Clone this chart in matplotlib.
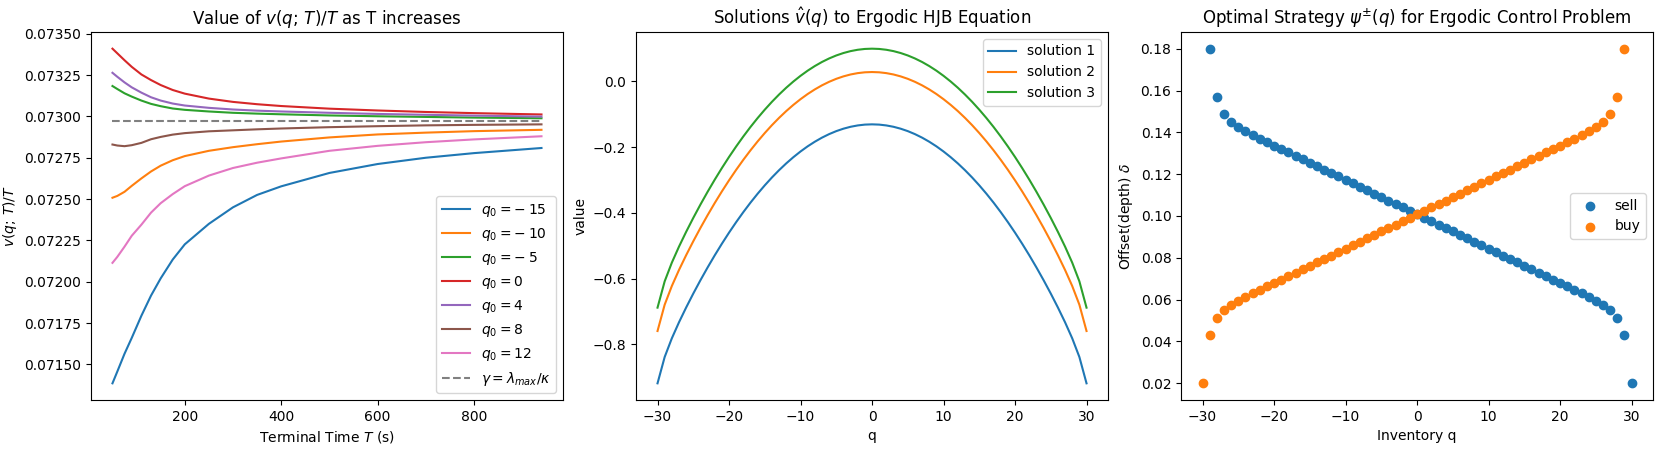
import numpy as np
import matplotlib
matplotlib.use("Agg")
import matplotlib.pyplot as plt

# --- left panel: v(q;T)/T against terminal time ---
T_grid = [50, 60, 75, 90, 110, 130, 150, 175, 200, 250, 300, 350, 400, 500, 600, 700, 800, 940]
q0_labels = [r"$q_0 = -\:15$", r"$q_0 = -\:10$", r"$q_0 = -\:5$", "$q_0 = 0$",
             "$q_0 = 4$", "$q_0 = 8$", "$q_0 = 12$"]
vT_m15 = [0.071385, 0.071456, 0.071564, 0.071660, 0.071794, 0.071916, 0.072020, 0.072134, 0.072226,
          0.072350, 0.072450, 0.072525, 0.072577, 0.072658, 0.072712, 0.072750, 0.072778, 0.072809]
vT_m10 = [0.072508, 0.072519, 0.072544, 0.072580, 0.072625, 0.072667, 0.072702, 0.072735, 0.072760,
          0.072792, 0.072814, 0.072832, 0.072848, 0.072873, 0.072891, 0.072902, 0.072911, 0.072919]
vT_m5 = [0.073184, 0.073166, 0.073140, 0.073120, 0.073096, 0.073076, 0.073062, 0.073048, 0.073040,
         0.073030, 0.073022, 0.073017, 0.073013, 0.073006, 0.073001, 0.072997, 0.072993, 0.072989]
vT_0 = [0.073410, 0.073382, 0.073340, 0.073300, 0.073254, 0.073220, 0.073190, 0.073160, 0.073138,
        0.073108, 0.073088, 0.073074, 0.073063, 0.073047, 0.073036, 0.073027, 0.073020, 0.073012]
vT_4 = [0.073264, 0.073240, 0.073206, 0.073176, 0.073144, 0.073116, 0.073096, 0.073078, 0.073066,
        0.073052, 0.073042, 0.073035, 0.073030, 0.073022, 0.073015, 0.073010, 0.073005, 0.072999]
vT_8 = [0.072830, 0.072824, 0.072820, 0.072826, 0.072840, 0.072862, 0.072876, 0.072890, 0.072899,
        0.072910, 0.072916, 0.072922, 0.072927, 0.072935, 0.072941, 0.072946, 0.072949, 0.072952]
vT_12 = [0.072114, 0.072150, 0.072212, 0.072278, 0.072345, 0.072418, 0.072475, 0.072530, 0.072578,
         0.072642, 0.072688, 0.072720, 0.072746, 0.072792, 0.072822, 0.072844, 0.072861, 0.072880]
gamma = 0.07297

# --- middle panel: ergodic HJB solutions ---
q_grid = list(range(-30, 31))
sol_1 = [-0.9182, -0.8382, -0.7815, -0.7328, -0.6879, -0.6454, -0.6049, -0.5662, -0.5292, -0.4939,
         -0.4602, -0.4282, -0.3978, -0.3690, -0.3419, -0.3164, -0.2925, -0.2703, -0.2497, -0.2308,
         -0.2135, -0.1978, -0.1838, -0.1714, -0.1607, -0.1516, -0.1442, -0.1384, -0.1343, -0.1318,
         -0.1310,
         -0.1318, -0.1343, -0.1384, -0.1442, -0.1516, -0.1607, -0.1714, -0.1838, -0.1978, -0.2135,
         -0.2308, -0.2497, -0.2703, -0.2925, -0.3164, -0.3419, -0.3690, -0.3978, -0.4282, -0.4602,
         -0.4939, -0.5292, -0.5662, -0.6049, -0.6454, -0.6879, -0.7328, -0.7815, -0.8382, -0.9182]
sol_2 = [-0.7592, -0.6792, -0.6225, -0.5738, -0.5289, -0.4864, -0.4459, -0.4072, -0.3702, -0.3349,
         -0.3012, -0.2692, -0.2388, -0.2100, -0.1829, -0.1574, -0.1335, -0.1113, -0.0907, -0.0718,
         -0.0545, -0.0388, -0.0248, -0.0124, -0.0017, 0.0074, 0.0148, 0.0206, 0.0247, 0.0272,
         0.0280,
         0.0272, 0.0247, 0.0206, 0.0148, 0.0074, -0.0017, -0.0124, -0.0248, -0.0388, -0.0545,
         -0.0718, -0.0907, -0.1113, -0.1335, -0.1574, -0.1829, -0.2100, -0.2388, -0.2692, -0.3012,
         -0.3349, -0.3702, -0.4072, -0.4459, -0.4864, -0.5289, -0.5738, -0.6225, -0.6792, -0.7592]
sol_3 = [-0.6882, -0.6082, -0.5515, -0.5028, -0.4579, -0.4154, -0.3749, -0.3362, -0.2992, -0.2639,
         -0.2302, -0.1982, -0.1678, -0.1390, -0.1119, -0.0864, -0.0625, -0.0403, -0.0197, -0.0008,
         0.0165, 0.0322, 0.0462, 0.0586, 0.0693, 0.0784, 0.0858, 0.0916, 0.0957, 0.0982,
         0.0990,
         0.0982, 0.0957, 0.0916, 0.0858, 0.0784, 0.0693, 0.0586, 0.0462, 0.0322, 0.0165,
         -0.0008, -0.0197, -0.0403, -0.0625, -0.0864, -0.1119, -0.1390, -0.1678, -0.1982, -0.2302,
         -0.2639, -0.2992, -0.3362, -0.3749, -0.4154, -0.4579, -0.5028, -0.5515, -0.6082, -0.6882]

# --- right panel: optimal offsets ---
q_sell = list(range(-29, 31))
delta_sell = [0.1800, 0.1567, 0.1487, 0.1449, 0.1425, 0.1405, 0.1387, 0.1370, 0.1353, 0.1337,
              0.1320, 0.1304, 0.1288, 0.1271, 0.1255, 0.1239, 0.1222, 0.1206, 0.1189, 0.1173,
              0.1157, 0.1140, 0.1124, 0.1107, 0.1091, 0.1074, 0.1058, 0.1041, 0.1025, 0.1008,
              0.0992, 0.0975, 0.0959, 0.0942, 0.0926, 0.0909, 0.0893, 0.0876, 0.0860, 0.0843,
              0.0827, 0.0811, 0.0794, 0.0778, 0.0761, 0.0745, 0.0729, 0.0712, 0.0696, 0.0680,
              0.0663, 0.0647, 0.0630, 0.0613, 0.0595, 0.0575, 0.0551, 0.0513, 0.0433, 0.0200]
q_buy = list(range(-30, 30))
delta_buy = [0.0200, 0.0433, 0.0513, 0.0551, 0.0575, 0.0595, 0.0613, 0.0630, 0.0647, 0.0663,
             0.0680, 0.0696, 0.0712, 0.0729, 0.0745, 0.0761, 0.0778, 0.0794, 0.0811, 0.0827,
             0.0843, 0.0860, 0.0876, 0.0893, 0.0909, 0.0926, 0.0942, 0.0959, 0.0975, 0.0992,
             0.1008, 0.1025, 0.1041, 0.1058, 0.1074, 0.1091, 0.1107, 0.1124, 0.1140, 0.1157,
             0.1173, 0.1189, 0.1206, 0.1222, 0.1239, 0.1255, 0.1271, 0.1288, 0.1304, 0.1320,
             0.1337, 0.1353, 0.1370, 0.1387, 0.1405, 0.1425, 0.1449, 0.1487, 0.1567, 0.1800]

fig, axes = plt.subplots(1, 3, figsize=(16.61, 4.5), dpi=100)
fig.subplots_adjust(left=0.0548, right=0.9952, bottom=0.111, top=0.929, wspace=0.155)

ax = axes[0]
for vals, lab in zip([vT_m15, vT_m10, vT_m5, vT_0, vT_4, vT_8, vT_12], q0_labels):
    ax.plot(T_grid, vals, label=lab)
ax.plot(T_grid, [gamma] * len(T_grid), linestyle="--", color="grey",
        label=r"$\gamma = \lambda_{max}/\kappa$")
ax.ticklabel_format(axis="y", useOffset=False)
ax.set_title(r"Value of $v(q;\,T)/T$ as T increases")
ax.set_xlabel("Terminal Time $T$ (s)")
ax.set_ylabel(r"$v(q;\,T)/T$")
ax.legend(loc="lower right")

ax = axes[1]
ax.plot(q_grid, sol_1, label="solution 1")
ax.plot(q_grid, sol_2, label="solution 2")
ax.plot(q_grid, sol_3, label="solution 3")
ax.set_title(r"Solutions $\hat{v}(q)$ to Ergodic HJB Equation")
ax.set_xlabel("q")
ax.set_ylabel("value")
ax.legend(loc="upper right")

ax = axes[2]
ax.scatter(q_sell, delta_sell, label="sell")
ax.scatter(q_buy, delta_buy, label="buy")
ax.set_title(r"Optimal Strategy $\psi^{\pm}(q)$ for Ergodic Control Problem")
ax.set_xlabel("Inventory q")
ax.set_ylabel(r"Offset(depth) $\delta$")
ax.legend(loc="center right")

fig.savefig("out.png", dpi=100)
